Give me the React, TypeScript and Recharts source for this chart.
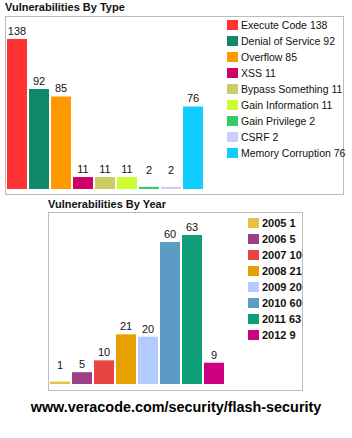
import { BarChart, Bar, Cell, XAxis, YAxis, LabelList } from 'recharts';

const typeNames = [
  'Execute Code',
  'Denial of Service',
  'Overflow',
  'XSS',
  'Bypass Something',
  'Gain Information',
  'Gain Privilege',
  'CSRF',
  'Memory Corruption',
];
const typeCounts = [138, 92, 85, 11, 11, 11, 2, 2, 76];
const typeColors = ['#ff3333', '#10896a', '#ff9900', '#cc0066', '#cccc66', '#ccff33', '#33cc66', '#ccccff', '#11ccff'];

const years = ['2005', '2006', '2007', '2008', '2009', '2010', '2011', '2012'];
const yearCounts = [1, 5, 10, 21, 20, 60, 63, 9];
const yearColors = ['#e6c240', '#9c3f86', '#e84444', '#e6a000', '#b3ccff', '#5c9cc4', '#0f9e7a', '#cc0080'];

const typeData = typeNames.map((name, i) => ({ name, value: typeCounts[i] }));
const yearData = years.map((name, i) => ({ name, value: yearCounts[i] }));

const FONT = '"Liberation Sans", Arial, sans-serif';

// value label sits ~8px above the bar, but never closer than ~19px to the baseline
const renderLabel = (props: any) => {
  const { x, y, width, height, value } = props;
  const cy = Math.min(y - 8, y + height - 19);
  return (
    <text x={x + width / 2} y={cy} dy="0.35em" textAnchor="middle" fontSize={11} fill="#111" fontFamily={FONT}>
      {value}
    </text>
  );
};

function LegendBox({ items, left, top, step, bold }: { items: { label: string; color: string }[]; left: number; top: number; step: number; bold?: boolean }) {
  return (
    <>
      {items.map((it, i) => (
        <div
          key={it.label}
          style={{ position: 'absolute', left, top: top + i * step, height: 11, display: 'flex', alignItems: 'center', whiteSpace: 'nowrap' }}
        >
          <div style={{ width: 11, height: 10, background: it.color, marginRight: 3 }} />
          <span style={{ fontSize: bold ? 11 : 10.5, fontWeight: bold ? 'bold' : 'normal', color: '#111' }}>{it.label}</span>
        </div>
      ))}
    </>
  );
}

export default function App() {
  return (
    <div style={{ position: 'absolute', left: 0, top: 0, width: 352, height: 438, background: '#fff', fontFamily: FONT }}>
      <div style={{ position: 'absolute', left: 5, top: 1, fontSize: 11, fontWeight: 'bold', color: '#111' }}>Vulnerabilities By Type</div>
      <div style={{ position: 'absolute', left: 5, top: 16, width: 339, height: 179, border: '1px solid #bbb', boxSizing: 'border-box' }} />
      <div style={{ position: 'absolute', left: 5, top: 16 }}>
        <BarChart width={339} height={179} data={typeData} margin={{ top: 23, right: 140, bottom: 6, left: 1 }} barCategoryGap={2}>
          <XAxis dataKey="name" hide />
          <YAxis hide domain={[0, 138]} />
          <Bar dataKey="value" barSize={20} isAnimationActive={false}>
            {typeData.map((d, i) => (
              <Cell key={d.name} fill={typeColors[i]} />
            ))}
            <LabelList dataKey="value" content={renderLabel} />
          </Bar>
        </BarChart>
      </div>
      <LegendBox
        items={typeNames.map((n, i) => ({ label: `${n} ${typeCounts[i]}`, color: typeColors[i] }))}
        left={227}
        top={19}
        step={16.1}
      />

      <div style={{ position: 'absolute', left: 48, top: 198, fontSize: 11, fontWeight: 'bold', color: '#111' }}>Vulnerabilities By Year</div>
      <div style={{ position: 'absolute', left: 48, top: 212, width: 255, height: 179, border: '1px solid #bbb', boxSizing: 'border-box' }} />
      <div style={{ position: 'absolute', left: 48, top: 212 }}>
        <BarChart width={255} height={179} data={yearData} margin={{ top: 23, right: 78, bottom: 7, left: 1 }} barCategoryGap={2}>
          <XAxis dataKey="name" hide />
          <YAxis hide domain={[0, 63]} />
          <Bar dataKey="value" barSize={20} isAnimationActive={false}>
            {yearData.map((d, i) => (
              <Cell key={d.name} fill={yearColors[i]} />
            ))}
            <LabelList dataKey="value" content={renderLabel} />
          </Bar>
        </BarChart>
      </div>
      <LegendBox
        items={years.map((y, i) => ({ label: `${y} ${yearCounts[i]}`, color: yearColors[i] }))}
        left={248}
        top={217}
        step={16}
        bold
      />

      <div style={{ position: 'absolute', left: 0, width: 352, top: 399, textAlign: 'center', fontSize: 14.4, fontWeight: 'bold', color: '#000' }}>
        www.veracode.com/security/flash-security
      </div>
    </div>
  );
}
